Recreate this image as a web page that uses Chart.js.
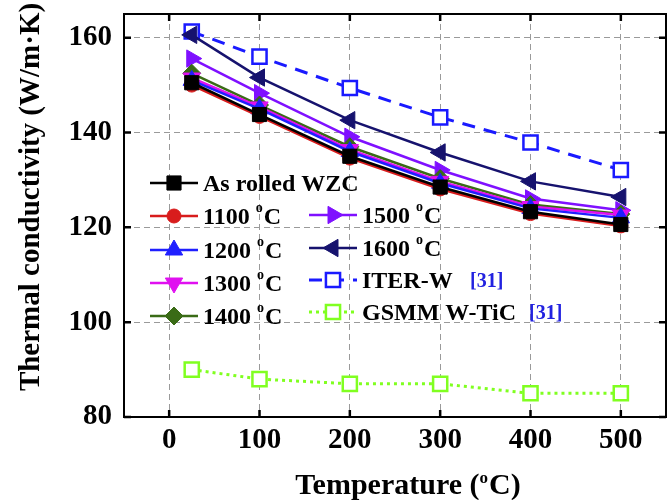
<!DOCTYPE html>
<html>
<head>
<meta charset="utf-8">
<script src="https://cdn.jsdelivr.net/npm/chart.js@4.4.1/dist/chart.umd.min.js"></script>
<style>
  html, body { margin: 0; padding: 0; background: #fff; }
  #wrap { width: 667px; height: 500px; }
</style>
</head>
<body>
<div id="wrap"><canvas id="chart"></canvas></div>
<script>
// temperatures (°C) and thermal conductivity (W/m·K)
const temps = [25, 100, 200, 300, 400, 500];
const asRolled = [150.5, 143.8, 135.0, 128.5, 123.3, 120.6];
const t1100 = [150.0, 143.4, 134.6, 128.1, 122.9, 120.3];
const t1200 = [151.0, 145.0, 136.0, 129.3, 124.0, 122.0];
const t1300 = [151.5, 145.4, 136.4, 129.7, 124.4, 122.6];
const t1400 = [152.5, 145.8, 137.0, 130.3, 124.8, 122.8];
const t1500 = [155.6, 148.3, 139.1, 132.1, 126.1, 123.6];
const t1600 = [160.6, 151.6, 142.6, 135.8, 129.7, 126.4];
const iterW = [161.3, 156.0, 149.4, 143.2, 137.9, 132.1];
const gsmm = [90.0, 88.0, 87.0, 87.0, 85.0, 85.0];

const xTicks = [0, 100, 200, 300, 400, 500];
const yTicks = [80, 100, 120, 140, 160];

const FONT = '"Liberation Serif", "Times New Roman", serif';

const pts = (vals) => vals.map((v, i) => ({ x: temps[i], y: v }));

function series(label, vals, color, extra) {
    return Object.assign({
        label: label,
        data: pts(vals),
        borderColor: color,
        backgroundColor: color,
        pointBackgroundColor: color,
        pointBorderColor: color,
        borderWidth: 2.5,
        pointBorderWidth: 1,
        pointRadius: 9,
        pointHoverRadius: 9,
        tension: 0,
    }, extra);
}

const datasets = [
    series('As rolled WZC', asRolled, '#000000', { pointStyle: 'rect', pointRadius: 10 }),
    series('1100', t1100, '#d81c1c', { pointStyle: 'circle', pointRadius: 7 }),
    series('1200', t1200, '#1f1fff', { pointStyle: 'triangle', pointRadius: 10 }),
    series('1300', t1300, '#e010f0', { pointStyle: 'triangle', pointRotation: 180, pointRadius: 10 }),
    series('1400', t1400, '#3a6b16', { pointStyle: 'rectRot', pointRadius: 9 }),
    series('1500', t1500, '#7f10ff', { pointStyle: 'triangle', pointRotation: 90, pointRadius: 10 }),
    series('1600', t1600, '#16126e', { pointStyle: 'triangle', pointRotation: -90, pointRadius: 10 }),
    series('ITER-W', iterW, '#1a1aff', {
        pointStyle: 'rect', pointRadius: 10, pointBackgroundColor: '#ffffff',
        pointBorderWidth: 2.5, borderWidth: 3, borderDash: [13, 9],
    }),
    series('GSMM W-TiC', gsmm, '#80ff20', {
        pointStyle: 'rect', pointRadius: 10, pointBackgroundColor: '#ffffff',
        pointBorderWidth: 2.5, borderWidth: 3, borderDash: [3, 4],
    }),
];

// legend rows: dataset index, marker x, row y, degree suffix, reference tag
const legendRows = [
    { ds: 0, x: 174, y: 183, deg: false },
    { ds: 1, x: 174, y: 216, deg: true },
    { ds: 2, x: 174, y: 250, deg: true },
    { ds: 3, x: 174, y: 283, deg: true },
    { ds: 4, x: 174, y: 316, deg: true },
    { ds: 5, x: 333, y: 215, deg: true },
    { ds: 6, x: 333, y: 248, deg: true },
    { ds: 7, x: 333, y: 280, deg: false, ref: 470 },
    { ds: 8, x: 333, y: 312, deg: false, ref: 529 },
];

function drawDegText(ctx, before, after, x, y, size) {
    ctx.font = 'bold ' + size + 'px ' + FONT;
    ctx.fillText(before, x, y);
    let w = ctx.measureText(before).width;
    ctx.font = 'bold ' + Math.round(size * 0.58) + 'px ' + FONT;
    ctx.fillText('o', x + w, y - size * 0.38);
    w += ctx.measureText('o').width + 1;
    ctx.font = 'bold ' + size + 'px ' + FONT;
    ctx.fillText(after, x + w, y);
}

const decorations = {
    id: 'decorations',
    afterDraw(chart) {
        const { ctx, chartArea: a, scales } = chart;
        const sx = scales.x;
        const sy = scales.y;
        ctx.save();

        // inward ticks on all four sides
        ctx.strokeStyle = '#000';
        ctx.lineWidth = 2.5;
        ctx.beginPath();
        xTicks.forEach((v) => {
            const px = sx.getPixelForValue(v);
            ctx.moveTo(px, a.bottom); ctx.lineTo(px, a.bottom - 7);
            ctx.moveTo(px, a.top); ctx.lineTo(px, a.top + 7);
        });
        yTicks.forEach((v) => {
            const py = sy.getPixelForValue(v);
            ctx.moveTo(a.left, py); ctx.lineTo(a.left + 7, py);
            ctx.moveTo(a.right, py); ctx.lineTo(a.right - 7, py);
        });
        ctx.stroke();

        // frame
        ctx.lineWidth = 2;
        ctx.strokeRect(a.left, a.top, a.right - a.left, a.bottom - a.top);

        // legend
        ctx.textBaseline = 'middle';
        ctx.textAlign = 'left';
        legendRows.forEach((row) => {
            const ds = chart.data.datasets[row.ds];
            ctx.setLineDash(ds.borderDash || []);
            ctx.strokeStyle = ds.borderColor;
            ctx.lineWidth = ds.borderWidth;
            ctx.beginPath();
            ctx.moveTo(row.x - 24, row.y);
            ctx.lineTo(row.x + 24, row.y);
            ctx.stroke();
            ctx.setLineDash([]);
            ctx.fillStyle = ds.pointBackgroundColor;
            ctx.strokeStyle = ds.pointBorderColor;
            ctx.lineWidth = ds.pointBorderWidth;
            Chart.helpers.drawPoint(ctx, {
                pointStyle: ds.pointStyle,
                rotation: ds.pointRotation || 0,
                radius: ds.pointRadius,
                borderWidth: ds.pointBorderWidth,
            }, row.x, row.y);

            ctx.fillStyle = '#000';
            const tx = row.x + 29;
            const ty = row.y + 2;
            if (row.deg) {
                drawDegText(ctx, ds.label + ' ', 'C', tx, ty, 24);
            } else {
                ctx.font = 'bold 24px ' + FONT;
                ctx.fillText(ds.label, tx, ty);
            }
            if (row.ref) {
                ctx.fillStyle = '#2222e0';
                ctx.font = 'bold 20px ' + FONT;
                ctx.fillText('[31]', row.ref, ty);
            }
        });

        // axis titles
        ctx.fillStyle = '#000';
        ctx.textBaseline = 'alphabetic';
        const pre = 'Temperature (';
        ctx.font = 'bold 30px ' + FONT;
        const wPre = ctx.measureText(pre).width;
        ctx.font = 'bold 17px ' + FONT;
        const wO = ctx.measureText('o').width + 1;
        ctx.font = 'bold 30px ' + FONT;
        const wPost = ctx.measureText('C)').width;
        const startX = 408 - (wPre + wO + wPost) / 2;
        drawDegText(ctx, pre, 'C)', startX, 494, 30);

        ctx.save();
        ctx.translate(39, 197);
        ctx.rotate(-Math.PI / 2);
        ctx.textAlign = 'center';
        ctx.font = 'bold 29px ' + FONT;
        ctx.fillText('Thermal conductivity (W/m\u00B7K)', 0, 0);
        ctx.restore();

        ctx.restore();
    },
};

new Chart(document.getElementById('chart'), {
    type: 'line',
    data: { datasets: datasets },
    options: {
        responsive: true,
        maintainAspectRatio: false,
        animation: false,
        layout: { autoPadding: false, padding: { top: 14, right: 1, left: 0, bottom: 0 } },
        plugins: {
            legend: { display: false },
            tooltip: { enabled: false },
        },
        scales: {
            x: {
                type: 'linear',
                min: -50,
                max: 550,
                afterBuildTicks: (s) => { s.ticks = xTicks.map((v) => ({ value: v })); },
                afterFit: (s) => {
                    s.height = 83;
                    s.paddingLeft = 0;
                    s.paddingRight = 0;
                },
                grid: { color: '#9a9a9a', lineWidth: 1, drawTicks: false },
                border: { display: false, dash: [6, 4] },
                ticks: {
                    color: '#000',
                    padding: 6,
                    maxRotation: 0,
                    font: { family: FONT, size: 29, weight: 'bold' },
                },
            },
            y: {
                min: 80,
                max: 165,
                afterBuildTicks: (s) => { s.ticks = yTicks.map((v) => ({ value: v })); },
                afterFit: (s) => {
                    s.width = 124;
                    s.paddingTop = 0;
                    s.paddingBottom = 0;
                },
                grid: { color: '#9a9a9a', lineWidth: 1, drawTicks: false },
                border: { display: false, dash: [6, 4] },
                ticks: {
                    color: '#000',
                    padding: 12,
                    font: { family: FONT, size: 29, weight: 'bold' },
                },
            },
        },
    },
    plugins: [decorations],
});
</script>
</body>
</html>
